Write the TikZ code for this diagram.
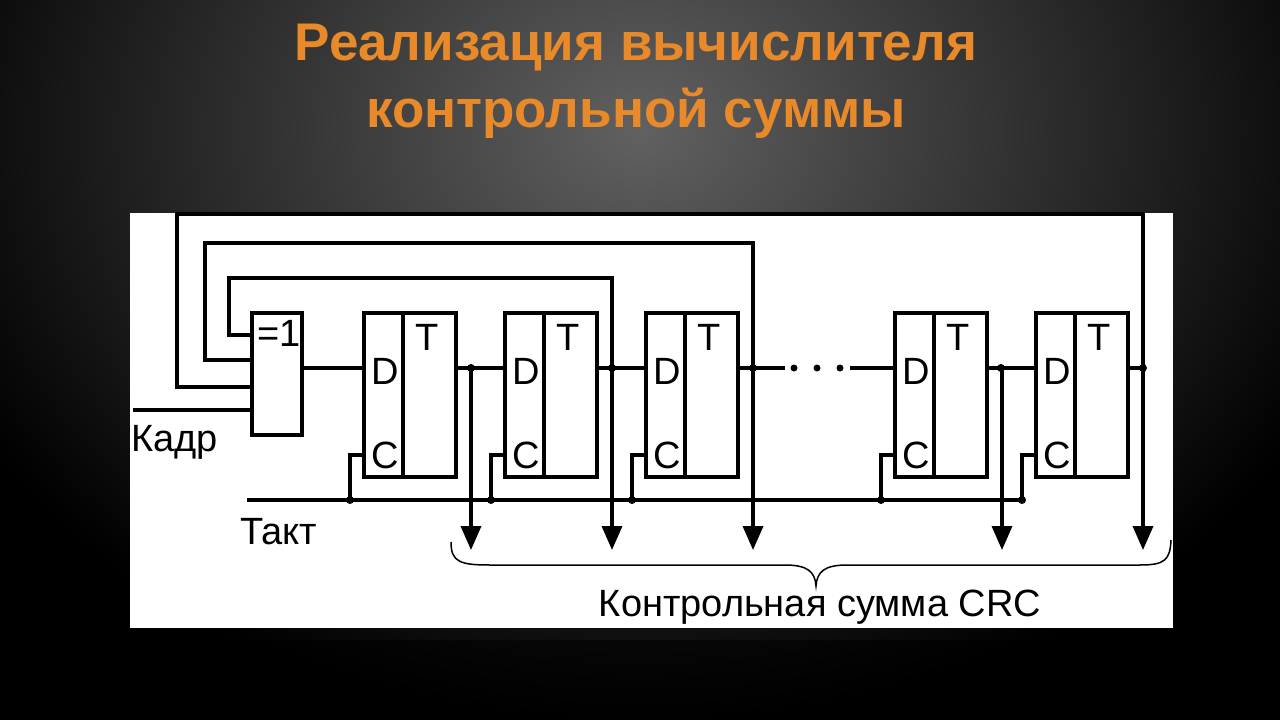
\documentclass[tikz,border=0pt]{standalone}
\usepackage{fontspec}
\setmainfont{Liberation Sans}
\usetikzlibrary{arrows.meta}
\definecolor{ttl}{HTML}{E8892A}
\begin{document}
\begin{tikzpicture}[x=1pt,y=-1pt,
  w/.style={line width=3.5pt,black},
  dotc/.style={circle,fill=black,inner sep=0pt,minimum size=8pt},
  lbl/.style={font=\fontsize{38}{38}\selectfont,inner sep=0pt},
  arr/.style={w,-{Triangle[length=24pt,width=20pt]}}]
\useasboundingbox (0,0) rectangle (1280,720);
\fill[black] (0,0) rectangle (1280,720);
\shade[inner color=black!62,outer color=black] (640,130) ellipse (760 and 600);
\fill[black,opacity=0.5] (0,640) rectangle (1280,720);
\node[font=\fontsize{53}{53}\selectfont\bfseries,text=ttl] (t1) at (636,48) {Реализация вычислителя};
\node[font=\fontsize{53}{53}\selectfont\bfseries,text=ttl] (t2) at (636,113) {контрольной суммы};
\fill[white] (130,213) rectangle (1173,628);
% gate
\draw[w] (252,313) rectangle (302,435);
\node[lbl,anchor=north west] (g) at (257,320) {=1};
% flip-flops
\foreach \x/\n in {364/a,505/b,646/c,895/d,1036/e}{
  \draw[w] (\x,313) rectangle (\x+92,477);
  \draw[w] (\x+39,313) -- (\x+39,477);
  \node[lbl] (T\n) at (\x+63,337) {T};
  \node[lbl] (D\n) at (\x+21,371) {D};
  \node[lbl] (C\n) at (\x+21,455) {C};
  \draw[w] (\x-14,500) -- (\x-14,455) -- (\x,455);
  \node[dotc] at (\x-14,500) {};
  \draw[arr] (\x+107,368) -- (\x+107,550);
}
\foreach \x in {471,612,753,1001,1143}{\node[dotc] at (\x,368) {};}
% data chain
\draw[w] (302,368) -- (364,368);
\draw[w] (456,368) -- (505,368);
\draw[w] (597,368) -- (646,368);
\draw[w] (738,368) -- (785,368);
\draw[w] (850,368) -- (895,368);
\draw[w] (987,368) -- (1036,368);
\draw[w] (1128,368) -- (1143,368);
\foreach \x in {794,817,840}{\node[dotc,minimum size=7pt] at (\x,368) {};}
% feedback
\draw[w] (252,335) -- (229,335) -- (229,278) -- (612,278) -- (612,368);
\draw[w] (252,360) -- (205,360) -- (205,243) -- (753,243) -- (753,368);
\draw[w] (252,387) -- (177,387) -- (177,214) -- (1143,214) -- (1143,368);
\draw[w] (133,410) -- (252,410);
\draw[w] (247,500) -- (1022,500);
\node[lbl,anchor=west] (kadr) at (131,442) {Кадр};
\node[lbl,anchor=west] (takt) at (240,532) {Такт};
% brace
\draw[line width=1.5pt] (451,542) .. controls (451,562) and (460,565) .. (490,565) -- (785,565) .. controls (808,565) and (815,572) .. (816,586) .. controls (817,572) and (824,565) .. (847,565) -- (1140,565) .. controls (1165,565) and (1170,560) .. (1171,540);
\node[lbl] (crc) at (820,607) {Контрольная сумма CRC};
\end{tikzpicture}
\end{document}
